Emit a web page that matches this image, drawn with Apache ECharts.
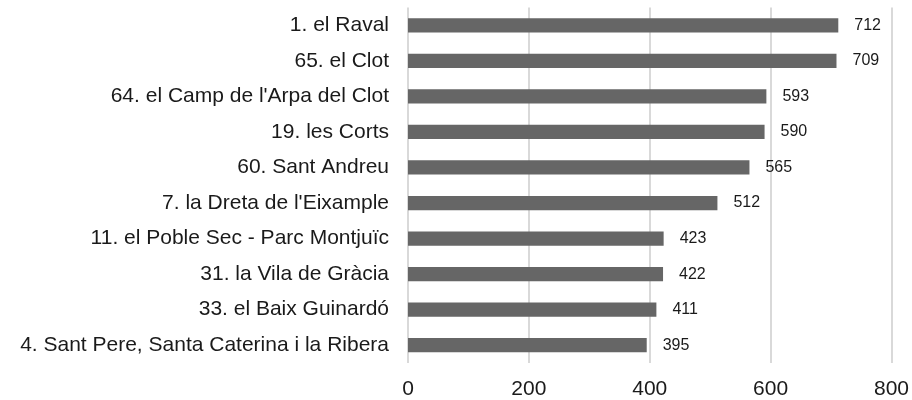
<!DOCTYPE html>
<html><head><meta charset="utf-8">
<script src="https://cdn.jsdelivr.net/npm/echarts@6/dist/echarts.min.js"></script>
<style>html,body{margin:0;padding:0;background:#fff}#c{width:912px;height:400px}</style>
</head><body><div id="c"></div>
<script>
var categories = ["1. el Raval","65. el Clot","64. el Camp de l'Arpa del Clot","19. les Corts","60. Sant Andreu","7. la Dreta de l'Eixample","11. el Poble Sec - Parc Montjuïc","31. la Vila de Gràcia","33. el Baix Guinardó","4. Sant Pere, Santa Caterina i la Ribera"];
var values = [712,709,593,590,565,512,423,422,411,395];
var chart = echarts.init(document.getElementById('c'));
chart.setOption({
  animation:false,
  grid:{left:408,right:20,top:7.5,bottom:35.5,containLabel:false},
  xAxis:{type:'value',min:0,max:800,interval:200,
    axisLine:{show:false},axisTick:{show:false},
    splitLine:{lineStyle:{color:'#d9d9d9',width:2}},
    axisLabel:{fontFamily:'Liberation Sans, Arial',fontSize:21,color:'#1a1a1a',margin:16}},
  yAxis:{type:'category',data:categories,inverse:true,
    axisLine:{show:false},axisTick:{show:false},
    axisLabel:{fontFamily:'Liberation Sans, Arial',fontSize:21,color:'#1a1a1a',margin:19}},
  series:[{type:'bar',data:values,barWidth:'40%',
    itemStyle:{color:'#666666'},
    label:{show:true,position:'right',distance:16,fontFamily:'Liberation Sans, Arial',fontSize:16,color:'#1a1a1a'}}]
});
</script></body></html>
